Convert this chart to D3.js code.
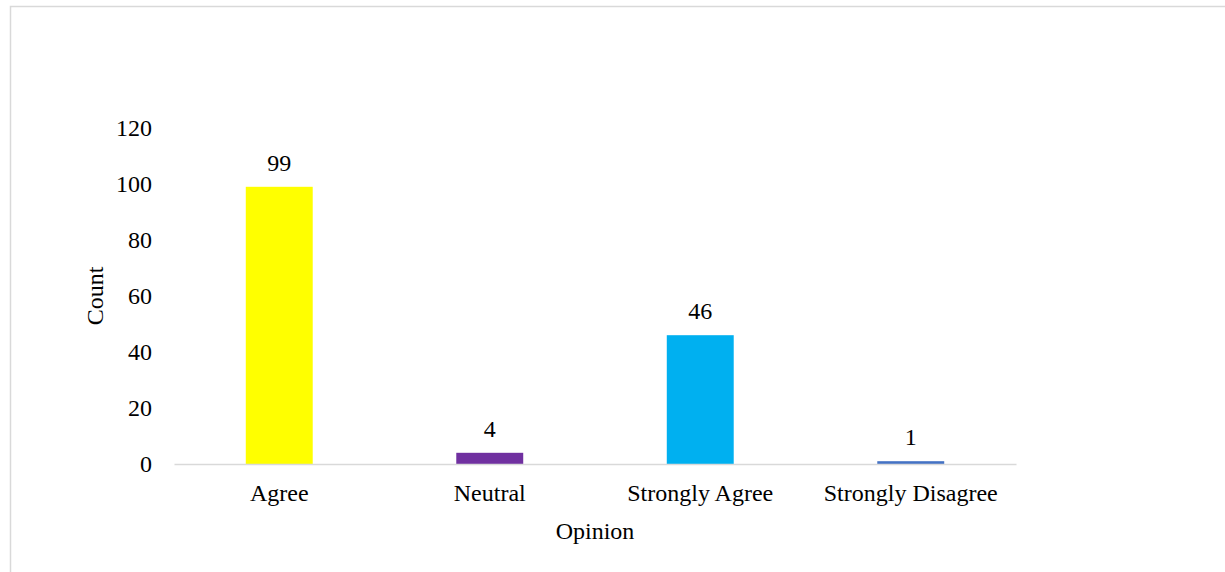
<!DOCTYPE html>
<html>
<head>
<meta charset="utf-8">
<script src="https://cdn.jsdelivr.net/npm/d3@7"></script>
<style>
  html, body { margin: 0; padding: 0; background: #fff; }
  svg { display: block; }
  text { font-family: "Liberation Serif", "Times New Roman", serif; fill: #000; }
</style>
</head>
<body>
<svg id="chart" width="1225" height="572"></svg>
<script>
// Survey responses by opinion
const categories = ["Agree", "Neutral", "Strongly Agree", "Strongly Disagree"];
const counts = [99, 4, 46, 1];
const barColors = ["#FFFF00", "#7030A0", "#00B0F0", "#4472C4"];
const yTicks = [0, 20, 40, 60, 80, 100, 120];

const W = 1225, H = 572;
const margin = { left: 174, right: 209, top: 128, bottom: 108 };
const fontSize = 24;

const svg = d3.select("#chart");

// chart frame (runs off the right and bottom edges)
svg.append("rect")
  .attr("x", 10.5).attr("y", 6.5)
  .attr("width", W + 20).attr("height", H + 20)
  .attr("fill", "none").attr("stroke", "#d9d9d9").attr("stroke-width", 1.5);

const x = d3.scaleBand()
  .domain(categories)
  .range([margin.left, W - margin.right])
  .paddingInner(0.682).paddingOuter(0.341);

const y = d3.scaleLinear()
  .domain([0, 120])
  .range([H - margin.bottom, margin.top]);

// bars
svg.append("g").selectAll("rect")
  .data(categories)
  .join("rect")
  .attr("x", d => x(d))
  .attr("width", x.bandwidth())
  .attr("y", (d, i) => y(counts[i]))
  .attr("height", (d, i) => y(0) - y(counts[i]))
  .attr("fill", (d, i) => barColors[i]);

// value labels
svg.append("g").selectAll("text")
  .data(categories)
  .join("text")
  .attr("x", d => x(d) + x.bandwidth() / 2)
  .attr("y", (d, i) => y(counts[i]) - 16)
  .attr("text-anchor", "middle")
  .attr("font-size", fontSize)
  .text((d, i) => counts[i]);

// x axis: baseline and category labels
const xAxis = svg.append("g")
  .attr("transform", `translate(0,${y(0)})`)
  .call(d3.axisBottom(x).tickSize(0).tickPadding(20));
xAxis.select(".domain").attr("stroke", "#d9d9d9").attr("stroke-width", 1.5);
xAxis.selectAll("text")
  .attr("font-size", fontSize)
  .attr("font-family", "Liberation Serif, Times New Roman, serif")
  .attr("fill", "#000");

// y axis: tick labels only
const yAxis = svg.append("g")
  .attr("transform", `translate(${margin.left},0)`)
  .call(d3.axisLeft(y).tickValues(yTicks).tickSize(0).tickPadding(22));
yAxis.select(".domain").remove();
yAxis.selectAll("text")
  .attr("font-size", fontSize)
  .attr("font-family", "Liberation Serif, Times New Roman, serif")
  .attr("fill", "#000");

// axis titles
svg.append("text")
  .attr("x", (margin.left + W - margin.right) / 2)
  .attr("y", 539)
  .attr("text-anchor", "middle")
  .attr("font-size", fontSize)
  .text("Opinion");

svg.append("text")
  .attr("transform", `translate(103,${(y(0) + y(120)) / 2}) rotate(-90)`)
  .attr("text-anchor", "middle")
  .attr("font-size", fontSize)
  .text("Count");
</script>
</body>
</html>
